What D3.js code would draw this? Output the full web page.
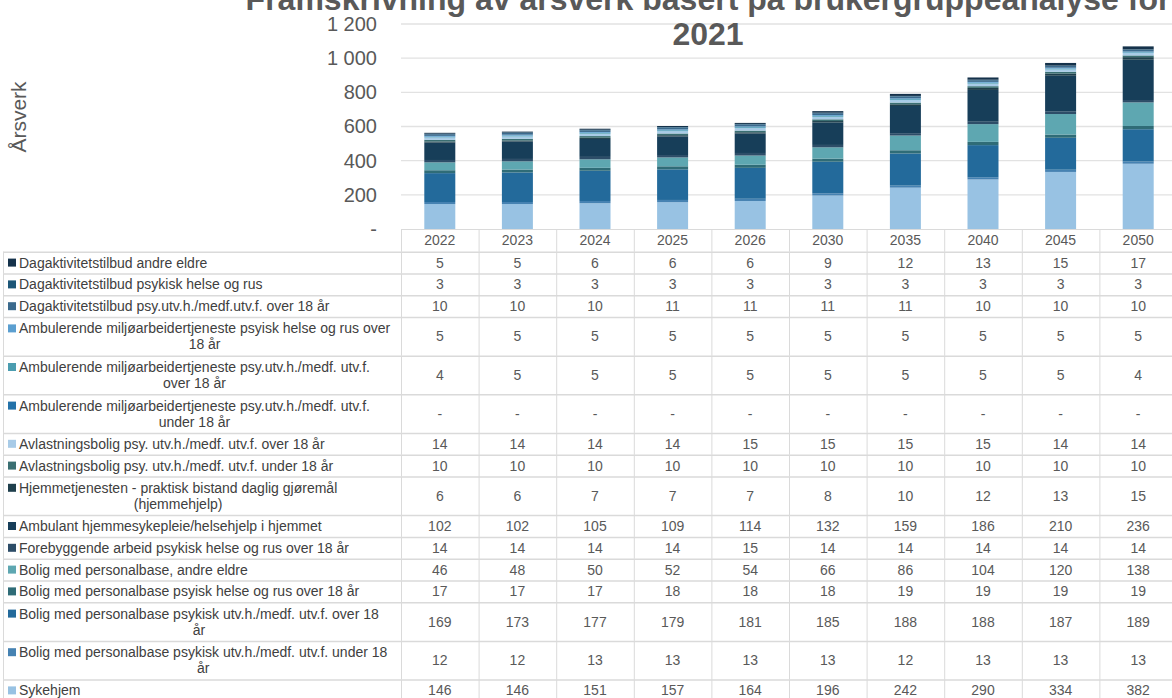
<!DOCTYPE html>
<html>
<head>
<meta charset="utf-8">
<script src="https://cdn.jsdelivr.net/npm/d3@7"></script>
<style>
  body { margin: 0; background: #fff; }
  svg { display: block; font-family: "Liberation Sans", Arial, sans-serif; }
</style>
</head>
<body>
<div id="chart"></div>
<script>
// years (columns) and y ticks
var years = ["2022", "2023", "2024", "2025", "2026", "2030", "2035", "2040", "2045", "2050"];
var yTicks = [0, 200, 400, 600, 800, 1000, 1200];

// series in table order (top of table = top of stack), "\n" marks the wrap
var seriesNames = [
  "Dagaktivitetstilbud andre eldre",
  "Dagaktivitetstilbud psykisk helse og rus",
  "Dagaktivitetstilbud psy.utv.h./medf.utv.f. over 18 år",
  "Ambulerende miljøarbeidertjeneste psyisk helse og rus over\n18 år",
  "Ambulerende miljøarbeidertjeneste psy.utv.h./medf. utv.f.\nover 18 år",
  "Ambulerende miljøarbeidertjeneste psy.utv.h./medf. utv.f.\nunder 18 år",
  "Avlastningsbolig psy. utv.h./medf. utv.f. over 18 år",
  "Avlastningsbolig psy. utv.h./medf. utv.f. under 18 år",
  "Hjemmetjenesten - praktisk bistand daglig gjøremål\n(hjemmehjelp)",
  "Ambulant hjemmesykepleie/helsehjelp i hjemmet",
  "Forebyggende arbeid psykisk helse og rus over 18 år",
  "Bolig med personalbase, andre eldre",
  "Bolig med personalbase psyisk helse og rus over 18 år",
  "Bolig med personalbase psykisk utv.h./medf. utv.f. over 18\når",
  "Bolig med personalbase psykisk utv.h./medf. utv.f. under 18\når",
  "Sykehjem"
];

var seriesValues = [
  [5, 5, 6, 6, 6, 9, 12, 13, 15, 17],
  [3, 3, 3, 3, 3, 3, 3, 3, 3, 3],
  [10, 10, 10, 11, 11, 11, 11, 10, 10, 10],
  [5, 5, 5, 5, 5, 5, 5, 5, 5, 5],
  [4, 5, 5, 5, 5, 5, 5, 5, 5, 4],
  [0, 0, 0, 0, 0, 0, 0, 0, 0, 0],
  [14, 14, 14, 14, 15, 15, 15, 15, 14, 14],
  [10, 10, 10, 10, 10, 10, 10, 10, 10, 10],
  [6, 6, 7, 7, 7, 8, 10, 12, 13, 15],
  [102, 102, 105, 109, 114, 132, 159, 186, 210, 236],
  [14, 14, 14, 14, 15, 14, 14, 14, 14, 14],
  [46, 48, 50, 52, 54, 66, 86, 104, 120, 138],
  [17, 17, 17, 18, 18, 18, 19, 19, 19, 19],
  [169, 173, 177, 179, 181, 185, 188, 188, 187, 189],
  [12, 12, 13, 13, 13, 13, 12, 13, 13, 13],
  [146, 146, 151, 157, 164, 196, 242, 290, 334, 382]
];

var seriesColors = [
  "#15324b", "#1c5677", "#3b6a8d", "#5b9fd0", "#4b9db0", "#2372a9",
  "#a8cbe7", "#3a6f72", "#1f3f4c", "#173e59", "#2d4d68", "#5ea7b1",
  "#2f6c77", "#236a9b", "#4682b2", "#98c2e3"
];

var width = 1172, height = 698;
var textColor = "#595959";
var lineColor = "#dadada";

var svg = d3.select("#chart").append("svg")
  .attr("width", width)
  .attr("height", height);

// plot columns line up with the table columns
var x = d3.scaleBand()
  .domain(years)
  .range([401, 1177])
  .paddingInner(0)
  .paddingOuter(0);

var y = d3.scaleLinear()
  .domain([0, 1200])
  .range([229, 24]);

// gridlines
svg.append("g")
  .selectAll("line")
  .data(yTicks.slice(1))
  .enter().append("line")
  .attr("x1", 401).attr("x2", 1177)
  .attr("y1", function (d) { return y(d); })
  .attr("y2", function (d) { return y(d); })
  .attr("stroke", "#e2e2e2")
  .attr("stroke-width", 1.3);

// y axis
var yAxis = d3.axisLeft(y)
  .tickValues(yTicks)
  .tickSize(0)
  .tickPadding(0)
  .tickFormat(function (d) {
    return d === 0 ? "-" : d3.format(",")(d).replace(",", " ");
  });

var yg = svg.append("g")
  .attr("transform", "translate(377,0)")
  .call(yAxis);
yg.select(".domain").remove();
yg.selectAll("text")
  .attr("fill", textColor)
  .style("font-size", "20px")
  .style("font-family", "'Liberation Sans', Arial, sans-serif");

svg.append("text")
  .attr("transform", "translate(26,117) rotate(-90)")
  .attr("text-anchor", "middle")
  .attr("fill", textColor)
  .style("font-size", "21px")
  .text("Årsverk");

// title
var title = svg.append("text")
  .attr("text-anchor", "middle")
  .attr("fill", textColor)
  .style("font-size", "32px")
  .style("font-weight", "bold");
title.append("tspan").attr("x", 708).attr("y", 10)
  .text("Framskrivning av årsverk basert på brukergruppeanalyse for");
title.append("tspan").attr("x", 708).attr("y", 45).text("2021");

// stacked bars, bottom of stack = last table row
var rows = years.map(function (yr, j) {
  var o = { year: yr };
  seriesNames.forEach(function (n, i) { o[n] = seriesValues[i][j]; });
  return o;
});
var keys = seriesNames.slice().reverse();
var color = d3.scaleOrdinal().domain(seriesNames).range(seriesColors);

var stacked = d3.stack().keys(keys)(rows);
var barW = 31;

svg.append("g")
  .selectAll("g")
  .data(stacked)
  .enter().append("g")
  .attr("fill", function (d) { return color(d.key); })
  .selectAll("rect")
  .data(function (d) { return d; })
  .enter().append("rect")
  .attr("x", function (d) { return x(d.data.year) + (x.bandwidth() - barW) / 2; })
  .attr("width", barW)
  .attr("y", function (d) { return y(d[1]); })
  .attr("height", function (d) { return y(d[0]) - y(d[1]); });

// data table
var table = svg.append("g");
var headTop = 229, headBottom = 251.7;
var singleH = 21.8, doubleH = 38.6;

// header row
table.append("line")
  .attr("x1", 401).attr("x2", 1177)
  .attr("y1", headTop + 0.5).attr("y2", headTop + 0.5)
  .attr("stroke", lineColor);
years.forEach(function (yr) {
  table.append("line")
    .attr("x1", x(yr) + 0.5).attr("x2", x(yr) + 0.5)
    .attr("y1", headTop).attr("y2", headBottom)
    .attr("stroke", lineColor);
  table.append("text")
    .attr("x", x(yr) + x.bandwidth() / 2)
    .attr("y", (headTop + headBottom) / 2)
    .attr("dy", "0.35em")
    .attr("text-anchor", "middle")
    .attr("fill", textColor)
    .style("font-size", "14px")
    .text(yr);
});

var rowTop = headBottom;
seriesNames.forEach(function (name, i) {
  var lines = name.split("\n");
  var h = lines.length > 1 ? doubleH : singleH;
  var mid = rowTop + h / 2;

  table.append("line")
    .attr("x1", 3).attr("x2", 1177)
    .attr("y1", rowTop + 0.5).attr("y2", rowTop + 0.5)
    .attr("stroke", lineColor)
    .attr("stroke-width", 1.5);
  table.append("line")
    .attr("x1", 3.5).attr("x2", 3.5)
    .attr("y1", rowTop).attr("y2", rowTop + h)
    .attr("stroke", lineColor);

  var firstY = lines.length > 1 ? mid - 8 : mid;
  table.append("rect")
    .attr("x", 8).attr("y", firstY - 4)
    .attr("width", 8).attr("height", 8)
    .attr("fill", seriesColors[i]);

  var t1 = table.append("text")
    .attr("x", 19).attr("y", firstY)
    .attr("dy", "0.35em")
    .attr("fill", "#404040")
    .style("font-size", "14px")
    .text(lines[0]);
  if (lines.length > 1) {
    var w = t1.node().getComputedTextLength();
    table.append("text")
      .attr("x", 19 + w / 2).attr("y", mid + 8)
      .attr("dy", "0.35em")
      .attr("text-anchor", "middle")
      .attr("fill", "#404040")
      .style("font-size", "14px")
      .text(lines[1]);
  }

  years.forEach(function (yr, j) {
    table.append("line")
      .attr("x1", x(yr) + 0.5).attr("x2", x(yr) + 0.5)
      .attr("y1", rowTop).attr("y2", rowTop + h)
      .attr("stroke", lineColor);
    var v = seriesValues[i][j];
    table.append("text")
      .attr("x", x(yr) + x.bandwidth() / 2)
      .attr("y", mid)
      .attr("dy", "0.35em")
      .attr("text-anchor", "middle")
      .attr("fill", textColor)
      .style("font-size", "14px")
      .text(v === 0 ? "-" : v);
  });
  rowTop += h;
});
table.append("line")
  .attr("x1", 3).attr("x2", 1177)
  .attr("y1", rowTop + 0.5).attr("y2", rowTop + 0.5)
  .attr("stroke", lineColor);
</script>
</body>
</html>
